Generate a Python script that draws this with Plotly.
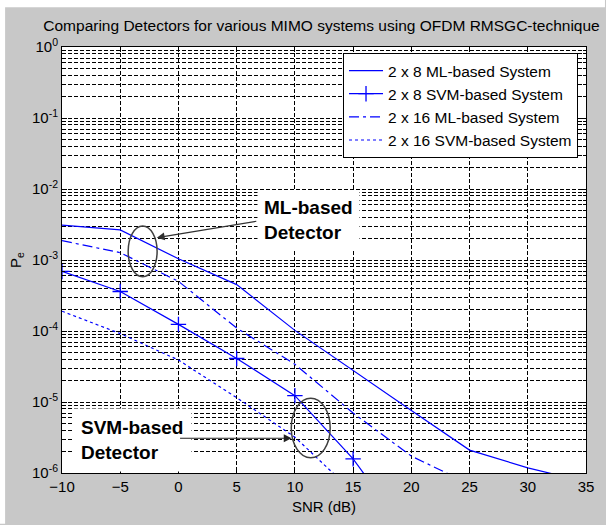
import plotly.graph_objects as go

# ---------------- data ----------------
snr_db = [-10, -5, 0, 5, 10, 15, 20, 25, 30, 35]
ml_2x8 = [3.1e-3, 2.65e-3, 1.04e-3, 4.5e-4, 1.02e-4, 2.75e-5, 7.6e-6, 2.1e-6, 1.18e-6, 7.5e-7]
svm_2x8 = [6.9e-4, 3.6e-4, 1.24e-4, 4.1e-5, 1.23e-5, 1.58e-6, 1.2e-7, None, None, None]
ml_2x16 = [1.87e-3, 1.27e-3, 5.0e-4, 1.1e-4, 3.4e-5, 7.0e-6, 1.73e-6, 7.0e-7, None, None]
svm_2x16 = [1.9e-4, 9.2e-5, 3.9e-5, 1.15e-5, 3.2e-6, 5.4e-7, None, None, None, None]

series_names = ["2 x 8 ML-based System", "2 x 8 SVM-based System",
                "2 x 16 ML-based System", "2 x 16 SVM-based System"]

x_ticks = [-10, -5, 0, 5, 10, 15, 20, 25, 30, 35]
y_ticks = [1e-6, 1e-5, 1e-4, 1e-3, 1e-2, 1e-1, 1e0]
y_ticktext = ["10<sup>-6</sup>", "10<sup>-5</sup>", "10<sup>-4</sup>", "10<sup>-3</sup>",
              "10<sup>-2</sup>", "10<sup>-1</sup>", "10<sup>0</sup>"]

title_text = "Comparing Detectors for various MIMO systems using OFDM RMSGC-technique"
x_title = "SNR (dB)"
y_title = "P<sub>e</sub>"
ml_label = "<b>ML-based<br>Detector</b>"
svm_label = "<b>SVM-based<br>Detector</b>"

# ---------------- layout geometry ----------------
W, H = 606, 525
ML, MR, MT, MB = 62, 19, 47, 49
PW, PH = W - ML - MR, H - MT - MB


def px(xp):
    return (xp - ML) / PW


def py(yp):
    return (H - MB - yp) / PH


FONT = "Arial, Liberation Sans, Helvetica, sans-serif"
BLUE = "#0000ff"

fig = go.Figure()
fig.add_trace(go.Scatter(x=snr_db, y=ml_2x8, name=series_names[0], mode="lines",
                         line=dict(color=BLUE, width=1.2)))
fig.add_trace(go.Scatter(x=snr_db, y=svm_2x8, name=series_names[1], mode="lines+markers",
                         line=dict(color=BLUE, width=1.2),
                         marker=dict(symbol="cross-thin", size=11,
                                     line=dict(color=BLUE, width=1.3))))
fig.add_trace(go.Scatter(x=snr_db, y=ml_2x16, name=series_names[2], mode="lines",
                         line=dict(color=BLUE, width=1.2, dash="10px,4px,3px,4px")))
fig.add_trace(go.Scatter(x=snr_db, y=svm_2x16, name=series_names[3], mode="lines",
                         line=dict(color=BLUE, width=1.2, dash="3px,3px")))

minor_vals = [k * 10.0 ** d for d in range(-6, 0) for k in range(2, 10)]

grid_style = dict(showgrid=True, gridcolor="#000000", gridwidth=1, griddash="4px,2px")

fig.update_xaxes(range=[-10, 35], tickmode="array", tickvals=x_ticks,
                 ticks="inside", ticklen=5, tickcolor="black",
                 showline=True, linecolor="black", linewidth=1, mirror="allticks",
                 zeroline=False, tickfont=dict(family=FONT, size=15, color="black"),
                 title=dict(text=x_title, font=dict(family=FONT, size=15, color="black"),
                            standoff=7),
                 **grid_style)
fig.update_yaxes(type="log", range=[-6, 0], tickmode="array", tickvals=y_ticks,
                 ticktext=y_ticktext, ticks="inside", ticklen=5, tickcolor="black",
                 showline=True, linecolor="black", linewidth=1, mirror="allticks",
                 zeroline=False, tickfont=dict(family=FONT, size=15, color="black"),
                 minor=dict(tickmode="array", tickvals=minor_vals, ticks="inside",
                            ticklen=3, tickcolor="black", showgrid=True,
                            gridcolor="#000000", gridwidth=1, griddash="4px,2px"),
                 **grid_style)

shapes = [
    # white strips of the screenshot border
    dict(type="rect", xref="paper", yref="paper", x0=px(0), x1=px(W), y0=py(7), y1=py(-2),
         fillcolor="white", line=dict(width=0), layer="below"),
    dict(type="rect", xref="paper", yref="paper", x0=px(-2), x1=px(5), y0=py(H + 2), y1=py(-2),
         fillcolor="white", line=dict(width=0), layer="below"),
    # ellipses
    dict(type="circle", xref="paper", yref="paper", x0=px(128.3), x1=px(157.3),
         y0=py(278.3), y1=py(227.3), line=dict(color="#404040", width=1.5)),
    dict(type="circle", xref="paper", yref="paper", x0=px(291.7), x1=px(330.7),
         y0=py(460.7), y1=py(400.7), line=dict(color="#404040", width=1.5)),
]

annotations = [
    dict(text=ml_label, xref="paper", yref="paper", x=px(257), y=py(221),
         xanchor="left", yanchor="middle", align="left", showarrow=False,
         font=dict(family=FONT, size=19, color="black"), bgcolor="white", borderpad=6),
    dict(text=svm_label, xref="paper", yref="paper", x=px(72), y=py(443),
         xanchor="left", yanchor="middle", align="left", showarrow=False,
         font=dict(family=FONT, size=19, color="black"), bgcolor="white", borderpad=8),
    # arrows
    dict(text=" ", xref="paper", yref="paper", x=px(157), y=py(239), axref="pixel",
         ayref="pixel", ax=103, ay=-17, showarrow=True, arrowhead=2, arrowsize=1.3,
         arrowwidth=1.2, arrowcolor="#303030"),
    dict(text=" ", xref="paper", yref="paper", x=px(292), y=py(441), axref="pixel",
         ayref="pixel", ax=-115, ay=0, showarrow=True, arrowhead=2, arrowsize=1.3,
         arrowwidth=1.2, arrowcolor="#202020"),
    # y-axis label
    dict(text=y_title, xref="paper", yref="paper", x=px(16), y=0.5, textangle=-90,
         xanchor="center", yanchor="middle", showarrow=False,
         font=dict(family=FONT, size=15, color="black")),
]

fig.update_layout(
    width=W, height=H, autosize=False,
    margin=dict(l=ML, r=MR, t=MT, b=MB, pad=0),
    paper_bgcolor="#c8c8c8", plot_bgcolor="white",
    font=dict(family=FONT, size=15, color="black"),
    title=dict(text=title_text, x=px(322), xref="paper", xanchor="center",
               y=1 - 26 / H, yref="container", yanchor="middle",
               font=dict(family=FONT, size=15.5, color="black")),
    legend=dict(x=px(579), y=py(53), xanchor="right", yanchor="top",
                bgcolor="white", bordercolor="black", borderwidth=1,
                font=dict(family=FONT, size=15.5, color="black"),
                tracegroupgap=0, itemwidth=34),
    showlegend=True,
    shapes=shapes,
    annotations=annotations,
)

fig.write_html("out.html")
